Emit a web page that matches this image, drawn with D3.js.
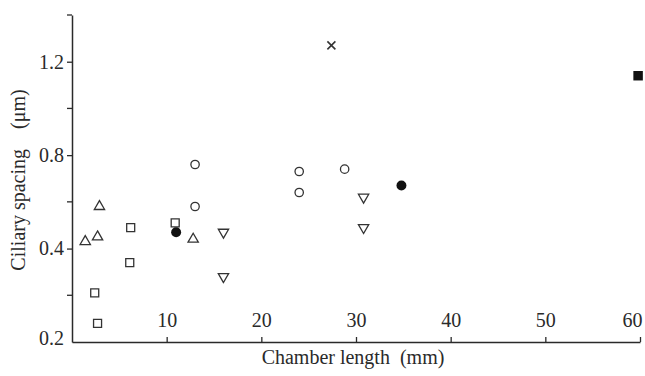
<!DOCTYPE html>
<html>
<head>
<meta charset="utf-8">
<script src="https://cdn.jsdelivr.net/npm/d3@7"></script>
<style>
  body { margin: 0; background: #fff; }
  #chart-container { width: 645px; height: 376px; }
  text { font-family: "Liberation Serif", "Times New Roman", serif; fill: #2a2a2a; }
</style>
</head>
<body>
<div id="chart-container"></div>
<script>
// values (y in axis units, bottom of axis = 0)
var triUpX = [1.4, 2.7, 2.9, 12.8]
var triUpY = [0.43, 0.45, 0.58, 0.44]
var squareX = [2.4, 2.7, 6.1, 6.2, 10.9]
var squareY = [0.21, 0.08, 0.34, 0.49, 0.51]
var dotX = [11.0, 34.8]
var dotY = [0.47, 0.67]
var circleX = [13.0, 13.0, 24.0, 24.0, 28.8]
var circleY = [0.58, 0.76, 0.73, 0.64, 0.74]
var triDownX = [16.0, 16.0, 30.8, 30.8]
var triDownY = [0.47, 0.28, 0.62, 0.49]
var crossX = [27.4]
var crossY = [1.27]
var blockX = [59.8]
var blockY = [1.14]

var xTicks = [10, 20, 30, 40, 50, 60]
var yTicks = [0, 0.4, 0.8, 1.2]
var yTickLabels = ['0.2', '0.4', '0.8', '1.2']
var yMinorTicks = [0.2, 0.6, 1.0, 1.4]

var ink = '#2a2a2a'

var svg = d3.select('#chart-container')
  .append('svg')
  .attr('width', 645)
  .attr('height', 376)

var x = d3.scaleLinear().domain([0, 60]).range([72, 640])
var y = d3.scaleLinear().domain([0, 1.4]).range([342, 15])

// axes
var xAxis = svg.append('g')
  .attr('transform', 'translate(0,' + y(0) + ')')
  .call(d3.axisTop(x).tickValues(xTicks).tickSize(5).tickSizeOuter(0).tickPadding(10).tickFormat(d3.format('d')))
xAxis.select('.domain').attr('stroke', ink).attr('stroke-width', 1.5)
xAxis.selectAll('.tick line').attr('stroke', ink).attr('stroke-width', 1.3)
xAxis.selectAll('.tick text').style('font-size', '20px').attr('fill', ink)
// last label sits left of the corner so it stays on the page
xAxis.selectAll('.tick').filter(function(d) { return d === 60 }).select('text').attr('dx', -8)

var yAxis = svg.append('g')
  .attr('transform', 'translate(' + x(0) + ',0)')
  .call(d3.axisLeft(y).tickValues(yTicks).tickSize(5).tickSizeOuter(0).tickPadding(3)
    .tickFormat(function(d, i) { return yTickLabels[i] }))
yAxis.select('.domain').attr('stroke', ink).attr('stroke-width', 1.5)
yAxis.selectAll('.tick line').attr('stroke', ink).attr('stroke-width', 1.3)
yAxis.selectAll('.tick text').style('font-size', '20px').attr('fill', ink)
yAxis.selectAll('.tick').filter(function(d) { return d === 0 }).select('line').remove()
yAxis.selectAll('.tick').filter(function(d) { return d === 0 }).select('text').attr('dy', '0.1em')

yAxis.selectAll('.minor')
  .data(yMinorTicks)
  .enter().append('line')
    .attr('class', 'minor')
    .attr('x1', -5)
    .attr('x2', 0)
    .attr('y1', function(d) { return y(d) })
    .attr('y2', function(d) { return y(d) })
    .attr('stroke', ink)
    .attr('stroke-width', 1.3)

// axis titles
var xTitle = svg.append('text')
  .attr('x', 353)
  .attr('y', 364)
  .attr('text-anchor', 'middle')
  .style('font-size', '20px')
xTitle.append('tspan').text('Chamber length')
xTitle.append('tspan').attr('dx', 10).text('(mm)')

var yTitle = svg.append('text')
  .attr('transform', 'translate(25,180) rotate(-90)')
  .attr('text-anchor', 'middle')
  .style('font-size', '20px')
yTitle.append('tspan').text('Ciliary spacing')
yTitle.append('tspan').attr('dx', 20).text('(\u03bcm)')

// points
function zip(xs, ys) {
  return xs.map(function(v, i) { return [v, ys[i]] })
}

var series = [
  {data: zip(triUpX, triUpY), type: d3.symbolTriangle, size: 46, rotate: 0, filled: false},
  {data: zip(squareX, squareY), type: d3.symbolSquare, size: 64, rotate: 0, filled: false},
  {data: zip(circleX, circleY), type: d3.symbolCircle, size: 55, rotate: 0, filled: false},
  {data: zip(triDownX, triDownY), type: d3.symbolTriangle, size: 46, rotate: 180, filled: false},
  {data: zip(dotX, dotY), type: d3.symbolCircle, size: 78, rotate: 0, filled: true},
  {data: zip(blockX, blockY), type: d3.symbolSquare, size: 90, rotate: 0, filled: true},
  {data: zip(crossX, crossY), type: d3.symbolCross, size: 60, rotate: 45, filled: false, cross: true}
]

var marks = svg.append('g').attr('class', 'marks')

series.forEach(function(s) {
  marks.append('g')
    .selectAll('path')
    .data(s.data)
    .enter().append('path')
      .attr('d', s.cross
        ? function() { return 'M-4,-4L4,4M-4,4L4,-4' }
        : d3.symbol().type(s.type).size(s.size))
      .attr('transform', function(d) {
        return 'translate(' + x(d[0]) + ',' + y(d[1]) + ') rotate(' + (s.cross ? 0 : s.rotate) + ')'
      })
      .attr('fill', s.filled ? '#111' : (s.cross ? 'none' : '#fff'))
      .attr('stroke', s.filled ? 'none' : '#333')
      .attr('stroke-width', s.cross ? 1.6 : 1.3)
})
</script>
</body>
</html>
